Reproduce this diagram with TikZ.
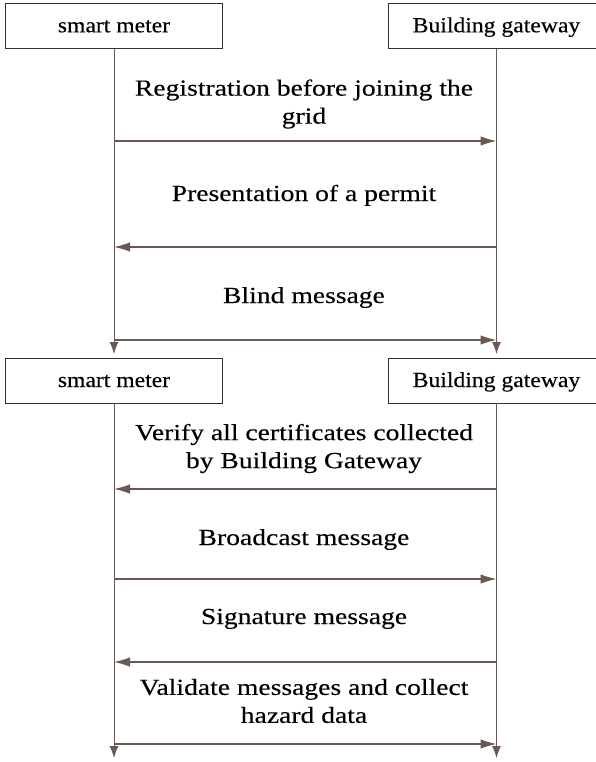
\documentclass[tikz,border=0pt]{standalone}
\usepackage{fontspec}
\setmainfont{Liberation Serif}
\newfontfamily\boxfont[FakeStretch=1.1,FakeBold=0.3]{Liberation Serif}
\newfontfamily\msgfont[FakeStretch=1.2,FakeBold=0.3]{Liberation Serif}
\usetikzlibrary{arrows.meta}
\definecolor{lifec}{RGB}{108,88,82}
\definecolor{framec}{RGB}{50,50,50}
\begin{document}
\begin{tikzpicture}[x=1pt,y=-1pt,
  actor/.style={draw=framec, line width=0.9pt, minimum width=217pt, minimum height=45pt,
    inner sep=0pt, text height=13pt, text depth=0pt, font=\boxfont\fontsize{21.5}{24}\selectfont},
  msg/.style={align=center, inner sep=0pt, font=\msgfont\fontsize{23}{28}\selectfont},
  life/.style={draw=lifec, line width=1pt, -{Latex[length=12pt,width=9pt]}},
  call/.style={draw=lifec, line width=1.2pt, -{Latex[length=16pt,width=9.5pt]}}]
\useasboundingbox (0,0) rectangle (596,762);
% actors
\node[actor] (sm1) at (114,25.8) {smart meter};
\node[actor] (bg1) at (496.5,25.8) {Building gateway};
\node[actor] (sm2) at (114,380.5) {smart meter};
\node[actor] (bg2) at (496.5,380.5) {Building gateway};
% lifeline ends
\coordinate (e1l) at (114,354);
\coordinate (e1r) at (496.5,354);
\coordinate (e2l) at (114,758);
\coordinate (e2r) at (496.5,758);
\draw[life] (sm1.south) -- (e1l);
\draw[life] (bg1.south) -- (e1r);
\draw[life] (sm2.south) -- (e2l);
\draw[life] (bg2.south) -- (e2r);
% message levels
\coordinate (y1) at (0,141);
\coordinate (y2) at (0,247);
\coordinate (y3) at (0,340);
\coordinate (y4) at (0,489);
\coordinate (y5) at (0,579);
\coordinate (y6) at (0,662);
\coordinate (y7) at (0,744);
\draw[call] (sm1.south |- y1) -- (bg1.south |- y1);
\draw[call] (bg1.south |- y2) -- (sm1.south |- y2);
\draw[call] (sm1.south |- y3) -- (bg1.south |- y3);
\draw[call] (bg2.south |- y4) -- (sm2.south |- y4);
\draw[call] (sm2.south |- y5) -- (bg2.south |- y5);
\draw[call] (bg2.south |- y6) -- (sm2.south |- y6);
\draw[call] (sm2.south |- y7) -- (bg2.south |- y7);
% message texts
\node[msg] (t1) at (304,104) {Registration before joining the\\grid};
\node[msg, anchor=base] (t2) at (304,201) {Presentation of a permit};
\node[msg, anchor=base] (t3) at (304,303) {Blind message};
\node[msg] (t4) at (304,448.5) {Verify all certificates collected\\by Building Gateway};
\node[msg, anchor=base] (t5) at (304,545) {Broadcast message};
\node[msg, anchor=base] (t6) at (304,624) {Signature message};
\node[msg] (t7) at (304,701) {Validate messages and collect\\hazard data};
\end{tikzpicture}
\end{document}
